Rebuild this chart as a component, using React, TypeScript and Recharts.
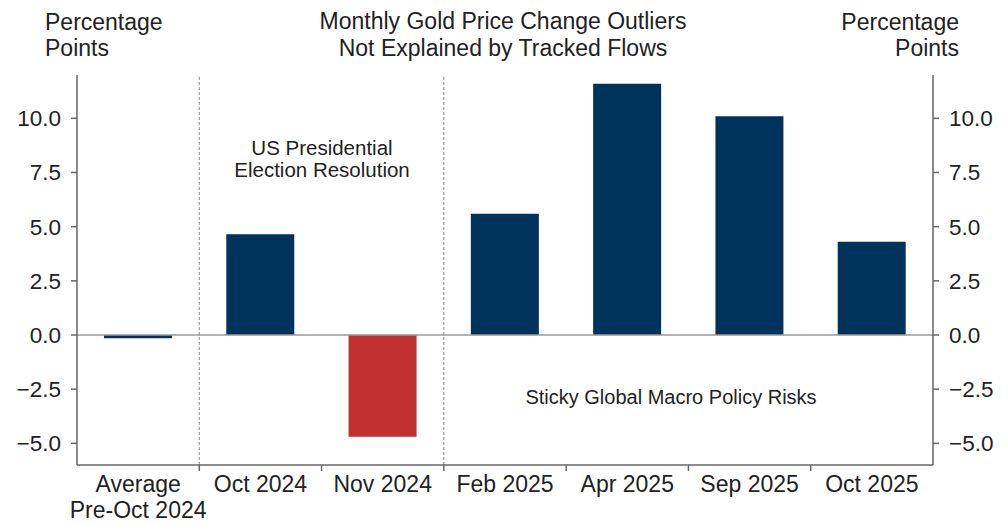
import { BarChart, Bar, XAxis, YAxis, Cell, ReferenceLine } from 'recharts';

const categories = [
  'Average\nPre-Oct 2024',
  'Oct 2024',
  'Nov 2024',
  'Feb 2025',
  'Apr 2025',
  'Sep 2025',
  'Oct 2025',
];
const outliers = [-0.15, 4.65, -4.7, 5.6, 11.6, 10.1, 4.3];
const highlight = ['Nov 2024'];
const yTicks = [-5, -2.5, 0, 2.5, 5, 7.5, 10];
const dividers = ['Oct 2024', 'Feb 2025'];

const data = categories.map((c, i) => ({ name: c, value: outliers[i] }));

const NAVY = '#00335c';
const RED = '#c03130';
const AXIS = '#666';
const TEXT = '#222';
const FONT = '"Liberation Sans", Arial, Helvetica, sans-serif';

const fmt = (v: number) => (v < 0 ? '\u2212' + Math.abs(v).toFixed(1) : v.toFixed(1));

function XTick(props: any) {
  const { x, y, payload, index } = props;
  const lines = String(payload.value).split('\n');
  const left = x - (payload.offset ?? 61);
  return (
    <g>
      {index > 0 && (
        <line x1={left} x2={left} y1={y} y2={y + 6} stroke={AXIS} strokeWidth={1.5} />
      )}
      <text x={x} y={y + 27} textAnchor="middle" fontSize={23} fill={TEXT} fontFamily={FONT}>
        {lines.map((l, i) => (
          <tspan key={i} x={x} dy={i === 0 ? 0 : 26}>
            {l}
          </tspan>
        ))}
      </text>
    </g>
  );
}

export default function App() {
  const tick = { fill: TEXT, fontSize: 22.5, fontFamily: FONT };
  return (
    <div
      style={{
        position: 'absolute',
        left: 0,
        top: 0,
        width: 1008,
        height: 525,
        background: '#fff',
        fontFamily: FONT,
        color: TEXT,
      }}
    >
      <BarChart
        width={1008}
        height={525}
        data={data}
        margin={{ top: 75, right: 0, bottom: 0, left: 0 }}
      >
        <XAxis
          dataKey="name"
          height={60}
          tickLine={false}
          tickSize={0}
          tickMargin={0}
          interval={0}
          axisLine={{ stroke: AXIS, strokeWidth: 1.5 }}
          tick={<XTick />}
        />
        <YAxis
          yAxisId="left"
          width={77}
          domain={[-6, 12]}
          ticks={yTicks}
          allowDataOverflow
          tickFormatter={fmt}
          tickSize={6}
          tickMargin={10}
          tick={tick}
          axisLine={{ stroke: AXIS, strokeWidth: 1.5 }}
          tickLine={{ stroke: AXIS, strokeWidth: 1.5 }}
        />
        <YAxis
          yAxisId="right"
          orientation="right"
          width={75}
          domain={[-6, 12]}
          ticks={yTicks}
          allowDataOverflow
          tickFormatter={fmt}
          tickSize={6}
          tickMargin={10}
          tick={{ ...tick, textAnchor: 'start' }}
          axisLine={{ stroke: AXIS, strokeWidth: 1.5 }}
          tickLine={{ stroke: AXIS, strokeWidth: 1.5 }}
        />
        <ReferenceLine yAxisId="left" y={0} stroke="#999" strokeWidth={1.5} />
        {dividers.map((d) => (
          <ReferenceLine
            key={d}
            yAxisId="left"
            x={d}
            position="start"
            stroke="#888"
            strokeWidth={1}
            strokeDasharray="3 2"
          />
        ))}
        <Bar yAxisId="left" dataKey="value" barSize={68} isAnimationActive={false}>
          {data.map((d) => (
            <Cell key={d.name} fill={highlight.includes(d.name) ? RED : NAVY} />
          ))}
        </Bar>
      </BarChart>

      <svg
        width={1008}
        height={525}
        style={{ position: 'absolute', left: 0, top: 0, pointerEvents: 'none' }}
        fontFamily={FONT}
        fill={TEXT}
      >
        <text x={45} y={30} fontSize={23}>Percentage</text>
        <text x={45} y={56} fontSize={23}>Points</text>
        <text x={959} y={30} fontSize={23} textAnchor="end">Percentage</text>
        <text x={959} y={56} fontSize={23} textAnchor="end">Points</text>
        <text x={503} y={29} fontSize={23} textAnchor="middle">
          Monthly Gold Price Change Outliers
        </text>
        <text x={503} y={56} fontSize={23} textAnchor="middle">
          Not Explained by Tracked Flows
        </text>
        <text x={322} y={155} fontSize={20.5} textAnchor="middle">US Presidential</text>
        <text x={322} y={177} fontSize={20.5} textAnchor="middle">Election Resolution</text>
        <text x={671} y={404} fontSize={20} textAnchor="middle">
          Sticky Global Macro Policy Risks
        </text>
      </svg>
    </div>
  );
}
